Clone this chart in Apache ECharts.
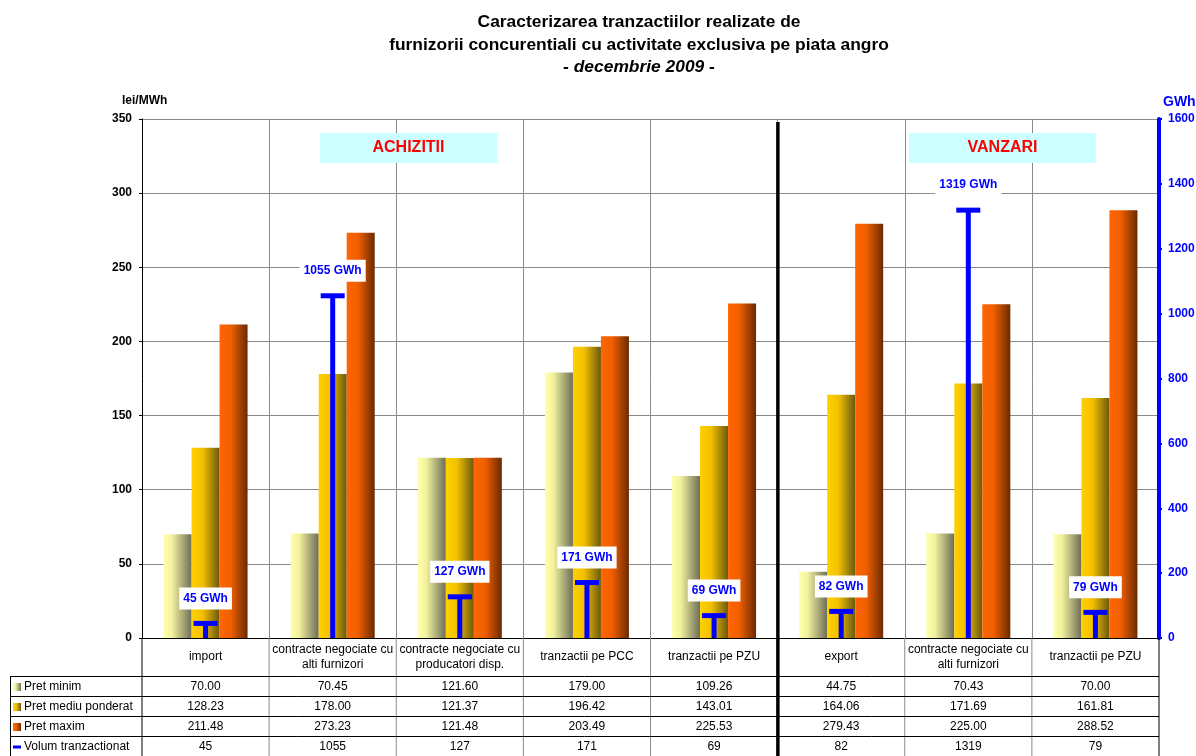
<!DOCTYPE html>
<html><head><meta charset="utf-8">
<script src="https://cdn.jsdelivr.net/npm/echarts@6/dist/echarts.min.js"></script>
<style>html,body{margin:0;padding:0;background:#fff}#c{width:1196px;height:756px}</style>
</head><body><div id="c"></div>
<script>
const categories = ['import','contracte negociate cu\nalti furnizori','contracte negociate cu\nproducatori disp.','tranzactii pe PCC','tranzactii pe PZU','export','contracte negociate cu\nalti furnizori','tranzactii pe PZU'];
const pretMinim = [70.00, 70.45, 121.60, 179.00, 109.26, 44.75, 70.43, 70.00];
const pretMediu = [128.23, 178.00, 121.37, 196.42, 143.01, 164.06, 171.69, 161.81];
const pretMaxim = [211.48, 273.23, 121.48, 203.49, 225.53, 279.43, 225.00, 288.52];
const volum = [45, 1055, 127, 171, 69, 82, 1319, 79];
const seriesNames = ['Pret minim', 'Pret mediu ponderat', 'Pret maxim', 'Volum tranzactionat'];
const groupLabels = ['ACHIZITII', 'VANZARI'];
const leftAxis = {min: 0, max: 350, interval: 50, name: 'lei/MWh'};
const rightAxis = {min: 0, max: 1600, interval: 200, name: 'GWh'};

const FONT = 'Arial, "Liberation Sans", sans-serif';
const G = echarts.graphic;
const gradMin = new G.LinearGradient(0,0,1,0,[{offset:0,color:'#FFFFAC'},{offset:0.3,color:'#F2F29E'},{offset:1,color:'#6E6E58'}]);
const gradMed = new G.LinearGradient(0,0,1,0,[{offset:0,color:'#FFD000'},{offset:0.4,color:'#F2C000'},{offset:1,color:'#6A5810'}]);
const gradMax = new G.LinearGradient(0,0,1,0,[{offset:0,color:'#FF6600'},{offset:0.4,color:'#F05F00'},{offset:1,color:'#6A2A00'}]);
const grads = [gradMin, gradMed, gradMax];

const chart = echarts.init(document.getElementById('c'));
const GRID = {left: 142, right: 37, top: 119, bottom: 118, containLabel: false, outerBoundsMode: 'none'};

chart.setOption({
  animation: false,
  title: {
    left: 634, top: 6, textAlign: 'center',
    text: '{a|Caracterizarea tranzactiilor realizate de}\n{a|furnizorii concurentiali cu activitate exclusiva pe piata angro}\n{b|- decembrie 2009 -}',
    textStyle: { rich: {
      a: {fontFamily: FONT, fontWeight: 'bold', fontSize: 17.4, lineHeight: 22.5, color: '#000'},
      b: {fontFamily: FONT, fontWeight: 'bold', fontStyle: 'italic', fontSize: 17.4, lineHeight: 22.5, color: '#000'}
    }}
  },
  grid: GRID,
  xAxis: {
    type: 'category', data: categories,
    axisLine: {lineStyle: {color: '#000', width: 1}},
    axisTick: {show: false},
    axisLabel: {interval: 0, margin: 19, verticalAlign: 'middle', fontFamily: FONT, fontSize: 12, lineHeight: 15, color: '#000'},
    splitLine: {show: true, interval: 0, lineStyle: {color: '#8a8a8a', width: 1}}
  },
  yAxis: [{
    type: 'value', min: leftAxis.min, max: leftAxis.max, interval: leftAxis.interval,
    axisLine: {show: true, lineStyle: {color: '#000', width: 1}},
    axisTick: {show: true, length: 3, lineStyle: {color: '#000'}},
    axisLabel: {margin: 10, fontFamily: FONT, fontWeight: 'bold', fontSize: 12, color: '#000'},
    splitLine: {lineStyle: {color: '#8a8a8a', width: 1}}
  }, {
    type: 'value', min: rightAxis.min, max: rightAxis.max, interval: rightAxis.interval, position: 'right',
    axisLine: {show: true, lineStyle: {color: '#0000FF', width: 4}},
    axisTick: {show: true, length: 3, lineStyle: {color: '#0000FF', width: 2}},
    axisLabel: {margin: 9, fontFamily: FONT, fontWeight: 'bold', fontSize: 12, color: '#0000FF', formatter: v => String(v)},
    splitLine: {show: false}
  }],
  series: [
    {name: seriesNames[0], type: 'bar', data: pretMinim, barWidth: 28, barGap: '0%', itemStyle: {color: gradMin}},
    {name: seriesNames[1], type: 'bar', data: pretMediu, barWidth: 28, barGap: '0%', itemStyle: {color: gradMed}},
    {name: seriesNames[2], type: 'bar', data: pretMaxim, barWidth: 28, barGap: '0%', itemStyle: {color: gradMax}},
    {name: seriesNames[3], type: 'custom', yAxisIndex: 1, z: 5,
     data: volum.map((v, i) => [i, v]),
     encode: {x: 0, y: 1},
     renderItem: function (params, api) {
       const i = api.value(0), v = api.value(1);
       const base = api.coord([i, 0]);
       const top = api.coord([i, v]);
       const x = base[0];
       return {type: 'group', children: [
         {type: 'rect', shape: {x: x - 2.5, y: top[1], width: 5, height: base[1] - top[1]}, style: {fill: '#0000FF'}},
         {type: 'rect', shape: {x: x - 12, y: top[1] - 2.5, width: 24, height: 5}, style: {fill: '#0000FF'}},
         {type: 'text', x: x, y: top[1] - 25, z2: 10, style: {text: v + ' GWh', fill: '#0000FF', font: 'bold 12px ' + FONT, align: 'center', verticalAlign: 'middle', backgroundColor: '#fff', padding: [5, 4, 5, 4]}}
       ]};
     }
    }
  ]
});

// table and annotations
function buildGraphics() {
  const n = categories.length;
  const c0 = chart.convertToPixel({xAxisIndex: 0}, 0);
  const c1 = chart.convertToPixel({xAxisIndex: 0}, 1);
  const bw = c1 - c0;
  const centers = categories.map((_, i) => chart.convertToPixel({xAxisIndex: 0}, i));
  const bounds = [centers[0] - bw / 2].concat(centers.map(c => c + bw / 2));
  const plotTop = chart.convertToPixel({yAxisIndex: 0}, leftAxis.max);
  const plotBot = chart.convertToPixel({yAxisIndex: 0}, 0);
  const L = 10, R = bounds[n];
  const headBot = 676, rowH = 20, bottom = 756;
  const els = [];
  const line = (x1, y1, x2, y2, color, w) => els.push({type: 'line', shape: {x1, y1, x2, y2}, style: {stroke: color, lineWidth: w}, silent: true, z: 20});
  for (let k = 1; k < n; k++) line(bounds[k], plotBot, bounds[k], bottom, '#8a8a8a', 1);
  line(bounds[0], plotBot, bounds[0], bottom, '#000', 1);
  line(R, plotBot, R, bottom, '#000', 1);
  line(L + 0.5, headBot, L + 0.5, bottom, '#000', 1);
  for (let r = 0; r < 4; r++) line(L, headBot + r * rowH + 0.5, R, headBot + r * rowH + 0.5, '#000', 1);
  els.push({type: 'rect', shape: {x: bounds[5] - 1.5, y: plotTop + 3, width: 3.5, height: bottom - plotTop}, style: {fill: '#000'}, z: 21, silent: true});
  const rows = [pretMinim, pretMediu, pretMaxim, volum];
  rows.forEach((arr, r) => {
    const cy = headBot + r * rowH + rowH / 2 + 1;
    if (r < 3) els.push({type: 'rect', shape: {x: 13, y: cy - 4, width: 8, height: 8}, style: {fill: new G.LinearGradient(0,0,1,0, grads[r].colorStops)}, z: 20});
    else els.push({type: 'rect', shape: {x: 13, y: cy - 1.5, width: 8, height: 3}, style: {fill: '#0000FF'}, z: 20});
    els.push({type: 'text', x: 24, y: cy, style: {text: seriesNames[r], font: '12px ' + FONT, fill: '#000', verticalAlign: 'middle', align: 'left'}, z: 20});
    arr.forEach((v, i) => {
      els.push({type: 'text', x: centers[i], y: cy, style: {text: r < 3 ? v.toFixed(2) : String(v), font: '12px ' + FONT, fill: '#000', align: 'center', verticalAlign: 'middle'}, z: 20});
    });
  });
  els.push({type: 'text', x: 122, y: 101, style: {text: leftAxis.name, font: 'bold 12px ' + FONT, fill: '#000', verticalAlign: 'middle'}, z: 20});
  els.push({type: 'text', x: 1163, y: 102, style: {text: rightAxis.name, font: 'bold 14px ' + FONT, fill: '#0000FF', verticalAlign: 'middle'}, z: 20});
  const boxes = [{x: 320, w: 177}, {x: 909, w: 187}];
  groupLabels.forEach((t, k) => {
    els.push({type: 'rect', shape: {x: boxes[k].x, y: 133, width: boxes[k].w, height: 30}, style: {fill: '#CCFFFF'}, z: 15});
    els.push({type: 'text', x: boxes[k].x + boxes[k].w / 2, y: 148, style: {text: t, font: 'bold 16px ' + FONT, fill: '#FF0000', align: 'center', verticalAlign: 'middle'}, z: 16});
  });
  chart.setOption({graphic: {elements: els}});
}
buildGraphics();
</script>
</body></html>
